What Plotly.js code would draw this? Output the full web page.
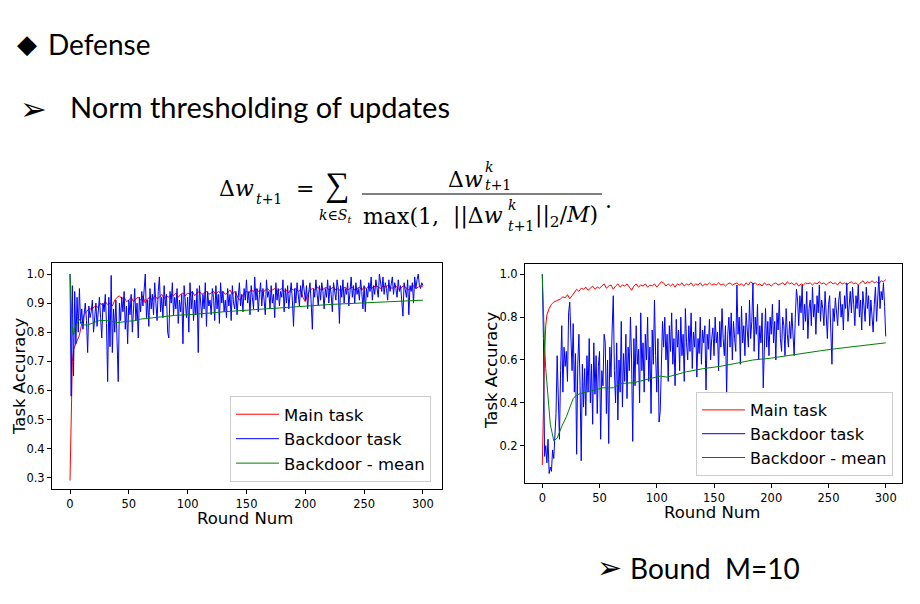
<!DOCTYPE html>
<html><head><meta charset="utf-8">
<script src="https://cdn.plot.ly/plotly-3.0.1.min.js"></script>
<style>html,body{margin:0;padding:0;background:#fff;}#chart{width:920px;height:604px;}</style>
</head><body><div id="chart"></div>
<script>
// ---------- data ----------
const seriesNames = ['Main task', 'Backdoor task', 'Backdoor - mean'];
const xTicks = [0, 50, 100, 150, 200, 250, 300];
const leftYTicks = [0.3, 0.4, 0.5, 0.6, 0.7, 0.8, 0.9, 1.0];
const rightYTicks = [0.2, 0.4, 0.6, 0.8, 1.0];

// Left chart (no bound): main task, rounds 0,1,2,3 then every 2 rounds from 4
const leftMain = [0.29,0.57,0.70,0.74,
 0.75,0.77,0.79,0.83,0.86,0.87,0.88,0.88,0.885,0.89,0.885,0.90,0.89,0.905,0.895,0.90,0.89,0.91,0.92,0.925,0.915,0.92,0.905,
 0.91,0.92,0.905,0.915,0.92,0.91,0.925,0.90,0.915,0.92,0.91,0.925,0.915,0.92,0.93,0.915,0.925,0.92,0.93,0.925,0.935,0.92,0.93,0.935,0.925,
 0.935,0.93,0.94,0.925,0.935,0.94,0.93,0.935,0.94,0.93,0.935,0.94,0.93,0.94,0.935,0.94,0.93,0.935,0.945,0.93,0.94,0.925,0.91,0.92,0.935,
 0.94,0.935,0.945,0.94,0.95,0.94,0.945,0.935,0.945,0.95,0.94,0.945,0.95,0.94,0.945,0.95,0.94,0.945,0.935,0.95,0.945,0.95,0.94,0.945,0.92,
 0.905,0.93,0.945,0.95,0.945,0.955,0.95,0.945,0.95,0.955,0.945,0.95,0.955,0.945,0.95,0.94,0.95,0.955,0.945,0.95,0.955,0.945,0.95,0.955,0.945,
 0.955,0.95,0.96,0.95,0.955,0.96,0.955,0.95,0.96,0.955,0.96,0.955,0.95,0.96,0.955,0.945,0.955,0.96,0.95,0.945,0.955,0.96,0.95,0.955,0.96,0.955];
// Left chart backdoor task, every round 0..300
const leftBackdoor = [
 1.00,0.58,0.96,0.65,0.94,0.76,0.92,0.80,0.95,0.83,
 0.88,0.81,0.86,0.90,0.84,0.73,0.89,0.85,0.87,0.91,
 0.80,0.86,0.90,0.82,0.88,0.92,0.85,0.78,0.90,0.87,
 0.93,0.83,0.63,0.92,0.75,0.995,0.73,0.88,0.80,0.91,
 0.77,0.63,0.90,0.84,0.92,0.87,0.94,0.81,0.89,0.76,
 0.91,0.86,0.93,0.80,0.88,0.95,0.84,0.90,0.78,0.92,
 0.87,0.94,0.89,0.96,1.00,0.85,0.91,0.82,0.95,0.88,
 0.93,0.86,0.97,0.90,0.84,0.94,0.99,0.87,0.92,0.85,
 0.96,0.89,0.93,0.80,0.78,0.94,0.90,0.97,0.86,0.92,
 0.88,0.95,0.83,0.91,0.87,0.93,0.76,0.96,0.89,0.85,
 0.92,0.80,0.97,0.88,0.94,0.84,0.91,0.86,0.95,0.73,
 0.96,0.90,0.85,0.93,0.88,0.97,0.82,0.94,0.89,0.91,
 0.86,0.95,0.92,0.84,0.96,0.88,0.93,0.83,0.97,0.90,
 0.94,0.87,0.91,0.85,0.95,0.89,0.93,0.84,0.96,0.90,
 0.88,0.94,0.86,0.92,0.97,0.89,0.93,0.87,0.95,0.91,
 0.98,0.90,0.94,0.86,0.96,0.92,0.88,0.99,0.91,0.95,
 0.87,0.93,0.97,0.89,0.95,0.91,0.86,0.98,0.92,0.94,
 0.88,0.96,0.90,0.93,0.85,0.97,0.91,0.95,0.89,0.94,
 0.92,0.98,0.87,0.95,0.90,0.96,0.88,0.93,0.97,0.91,
 0.82,0.95,0.90,0.97,0.93,0.89,0.96,0.92,0.98,0.94,
 0.91,0.96,0.88,0.94,0.97,0.90,0.81,0.95,0.92,0.98,
 0.93,0.89,0.96,0.91,0.97,0.94,0.88,0.95,0.92,0.98,
 0.90,0.96,0.93,0.87,0.97,0.94,0.91,0.98,0.95,0.83,
 0.96,0.92,0.98,0.90,0.95,0.93,0.97,0.89,0.94,0.99,
 0.92,0.96,0.90,0.97,0.93,0.95,0.91,0.98,0.94,0.88,
 0.96,0.87,0.95,0.92,0.97,0.94,0.99,0.91,0.96,0.93,
 0.98,0.95,0.92,1.00,0.96,0.94,0.99,0.93,0.97,0.95,
 0.91,0.98,0.94,0.96,0.99,0.93,0.97,0.95,0.92,0.98,
 0.94,0.96,0.90,0.855,0.97,0.95,0.92,0.98,0.86,0.96,
 0.94,0.97,0.90,0.99,0.95,0.98,1.00,0.96,0.95,0.97,
 0.96];
const leftMeanRounds = [0,1,2,3,4,6,8,10,12,15,18,22,25,30,35,40,45,50,55,60,70,80,90,100,110,120,130,140,150,160,170,180,190,200,210,220,230,240,250,260,270,280,290,300];
const leftMean = [1.0,0.88,0.80,0.79,0.815,0.83,0.845,0.83,0.825,0.825,0.83,0.835,0.84,0.84,0.838,0.833,0.835,0.837,0.84,0.845,0.85,0.855,0.858,0.86,0.862,0.866,0.87,0.873,0.876,0.879,0.882,0.885,0.888,0.89,0.893,0.895,0.897,0.899,0.901,0.903,0.905,0.907,0.908,0.91];

// Right chart (bound M=10): main task, rounds 0..4 then every 2 rounds from 6
const rightMain = [0.11,0.40,0.62,0.76,0.81,
 0.84,0.86,0.87,0.875,0.88,0.885,0.895,0.89,0.905,0.885,0.90,0.915,0.93,0.92,0.935,0.93,0.94,0.925,0.935,0.945,0.93,0.94,0.935,0.945,0.955,
 0.935,0.945,0.95,0.93,0.945,0.955,0.94,0.95,0.945,0.955,0.94,0.925,0.945,0.955,0.94,0.95,0.945,0.955,0.94,0.95,0.945,0.955,0.94,0.955,0.965,
 0.96,0.945,0.955,0.945,0.955,0.94,0.955,0.95,0.96,0.945,0.955,0.95,0.96,0.945,0.955,0.95,0.96,0.945,0.955,0.95,0.96,0.95,0.955,0.95,0.96,
 0.95,0.955,0.945,0.955,0.96,0.95,0.955,0.96,0.95,0.955,0.945,0.96,0.95,0.965,0.955,0.96,0.95,0.955,0.945,0.96,0.95,0.955,0.945,0.955,0.96,
 0.95,0.955,0.96,0.95,0.965,0.955,0.96,0.95,0.96,0.945,0.955,0.95,0.96,0.955,0.96,0.95,0.96,0.955,0.965,0.955,0.96,0.95,0.96,0.965,0.955,
 0.96,0.95,0.965,0.955,0.96,0.95,0.96,0.965,0.955,0.96,0.95,0.96,0.97,0.955,0.965,0.96,0.97,0.96,0.965,0.955,0.97,0.965,0.975];
const rightBackdoor = [
 1.00,0.70,0.15,0.20,0.12,0.23,0.07,0.10,0.08,0.18,
 0.14,0.25,0.35,0.62,0.40,0.23,0.55,0.76,0.45,0.66,
 0.57,0.64,0.50,0.82,0.87,0.70,0.55,0.77,0.45,0.63,
 0.16,0.58,0.72,0.48,0.13,0.58,0.38,0.56,0.34,0.62,
 0.45,0.70,0.40,0.58,0.30,0.68,0.44,0.62,0.35,0.57,
 0.64,0.23,0.55,0.48,0.72,0.68,0.35,0.60,0.21,0.66,
 0.52,0.74,0.90,0.55,0.40,0.68,0.32,0.60,0.45,0.78,
 0.38,0.63,0.50,0.72,0.42,0.66,0.55,0.80,0.60,0.22,
 0.70,0.48,0.76,0.58,0.65,0.40,0.82,0.55,0.68,0.45,
 0.72,0.60,0.80,0.50,0.66,0.35,0.74,0.58,0.88,0.62,
 0.45,0.70,0.31,0.36,0.55,0.78,0.66,0.80,0.60,0.72,
 0.50,0.76,0.64,0.82,0.58,0.70,0.48,0.79,0.66,0.74,
 0.55,0.80,0.62,0.72,0.50,0.84,0.68,0.60,0.76,0.64,
 0.82,0.56,0.73,0.66,0.78,0.52,0.70,0.63,0.80,0.58,
 0.74,0.68,0.76,0.46,0.72,0.65,0.79,0.60,0.70,0.75,
 0.62,0.80,0.68,0.73,0.55,0.78,0.66,0.84,0.70,0.62,
 0.76,0.44,0.72,0.80,0.66,0.82,0.60,0.78,0.70,0.64,
 0.95,0.72,0.80,0.58,0.85,0.68,0.76,0.62,0.82,0.74,
 0.66,0.88,0.70,0.78,0.96,0.64,0.80,0.72,0.86,0.60,
 0.76,0.68,0.82,0.47,0.74,0.84,0.66,0.78,0.62,0.80,
 0.72,0.86,0.68,0.78,0.60,0.82,0.74,0.88,0.70,0.64,
 0.80,0.76,0.62,0.84,0.72,0.66,0.78,0.70,0.82,0.74,
 0.62,0.80,0.93,0.88,0.76,0.90,0.82,0.95,0.74,0.86,
 0.78,0.92,0.70,0.84,0.88,0.76,0.94,0.80,0.86,0.72,
 0.90,0.82,0.95,0.78,0.88,0.84,0.76,0.92,0.80,0.70,
 0.86,0.90,0.74,0.58,0.84,0.78,0.89,0.82,0.76,0.88,
 0.92,0.80,0.86,0.74,0.90,0.84,0.96,0.78,0.88,0.92,
 0.82,0.94,0.86,0.76,0.90,0.84,0.95,0.80,0.88,0.74,
 0.92,0.86,0.78,0.94,0.84,0.90,0.76,0.88,0.82,0.73,
 0.86,0.94,0.78,0.90,0.99,0.84,0.92,0.88,0.96,0.85,
 0.71];
const rightMeanRounds = [0,1,2,3,4,5,7,10,13,17,21,27,30,36,45,53,62,68,80,94,103,109,126,141,155,170,184,199,213,228,243,257,272,286,300];
const rightMean = [1.0,0.80,0.66,0.56,0.49,0.42,0.30,0.223,0.235,0.29,0.335,0.42,0.437,0.447,0.46,0.47,0.47,0.49,0.494,0.515,0.525,0.52,0.545,0.56,0.57,0.585,0.60,0.608,0.62,0.63,0.643,0.653,0.662,0.672,0.68];

// ---------- helpers ----------
const W = 920, H = 604;
function roundsWithEarly(len, early, start, step) {
  const r = [];
  for (let i = 0; i < len; i++) r.push(i < early ? i : start + (i - early) * step);
  return r;
}
function everyRound(len) { return Array.from({length: len}, (_, i) => i); }
function px(x) { return x / W; }
function py(y) { return 1 - y / H; }
const SLIDE_FONT = 'Lato, "Open Sans", sans-serif';
const MATH_FONT = '"DejaVu Serif", "Liberation Serif", serif';
const PLOT_FONT = '"DejaVu Sans", sans-serif';
function ann(text, x, y, size, family, xanchor, extra) {
  return Object.assign({xref: 'paper', yref: 'paper', x: px(x), y: py(y), text: text, showarrow: false,
    xanchor: xanchor || 'left', yanchor: 'middle', borderpad: 0, font: {family: family, size: size, color: '#000'}}, extra || {});
}

const colors = ['#ff0000', '#0000ff', '#008000'];
const traces = [
  {x: roundsWithEarly(leftMain.length, 4, 4, 2), y: leftMain, name: seriesNames[0], xaxis: 'x', yaxis: 'y', legend: 'legend'},
  {x: everyRound(leftBackdoor.length), y: leftBackdoor, name: seriesNames[1], xaxis: 'x', yaxis: 'y', legend: 'legend'},
  {x: leftMeanRounds, y: leftMean, name: seriesNames[2], xaxis: 'x', yaxis: 'y', legend: 'legend'},
  {x: roundsWithEarly(rightMain.length, 5, 6, 2), y: rightMain, name: seriesNames[0], xaxis: 'x2', yaxis: 'y2', legend: 'legend2'},
  {x: everyRound(rightBackdoor.length), y: rightBackdoor, name: seriesNames[1], xaxis: 'x2', yaxis: 'y2', legend: 'legend2'},
  {x: rightMeanRounds, y: rightMean, name: seriesNames[2], xaxis: 'x2', yaxis: 'y2', legend: 'legend2'}
].map((t, i) => Object.assign(t, {type: 'scatter', mode: 'lines', line: {color: colors[i % 3], width: 1}, hoverinfo: 'skip'}));

const tickFont = {family: PLOT_FONT, size: 11.5, color: '#000'};
function xAxis(domain, range, anchor) {
  return {domain: domain, range: range, tickvals: xTicks, ticks: 'outside', ticklen: 4, tickcolor: '#000',
    showline: true, mirror: true, linecolor: '#000', linewidth: 1, showgrid: false, zeroline: false,
    tickfont: tickFont, anchor: anchor};
}
function yAxis(domain, range, ticks, anchor) {
  return {domain: domain, range: range, tickvals: ticks, tickformat: '.1f', ticks: 'outside', ticklen: 4, tickcolor: '#000',
    showline: true, mirror: true, linecolor: '#000', linewidth: 1, showgrid: false, zeroline: false,
    tickfont: tickFont, anchor: anchor};
}
const legendStyle = (x, y, size) => ({x: x, xanchor: 'right', y: y, yanchor: 'bottom', bgcolor: 'rgba(255,255,255,0.85)',
  bordercolor: '#cccccc', borderwidth: 1, font: {family: PLOT_FONT, size: size, color: '#000'},
  tracegroupgap: 0, itemwidth: 43});

const layout = {
  width: W, height: H, margin: {l: 0, r: 0, t: 0, b: 0}, paper_bgcolor: '#fff', plot_bgcolor: '#fff',
  showlegend: true,
  xaxis: xAxis([px(52), px(442)], [-15.3, 316.2], 'y'),
  yaxis: yAxis([py(489), py(263)], [0.261, 1.0378], leftYTicks, 'x'),
  xaxis2: xAxis([px(525), px(902)], [-15.1, 314.2], 'y2'),
  yaxis2: yAxis([py(483), py(264)], [0.0258, 1.048], rightYTicks, 'x2'),
  legend: legendStyle(px(431), py(482), 16.5),
  legend2: legendStyle(px(893), py(476), 16),
  shapes: [
    {type: 'line', xref: 'paper', yref: 'paper', x0: px(362), x1: px(602), y0: py(194), y1: py(194), line: {color: '#000', width: 1}}
  ],
  annotations: [
    // axis titles
    ann('Task Accuracy', 19, 377, 16.5, PLOT_FONT, 'center', {textangle: -90}),
    ann('Round Num', 245, 518, 16.5, PLOT_FONT, 'center'),
    ann('Task Accuracy', 491, 371, 16.5, PLOT_FONT, 'center', {textangle: -90}),
    ann('Round Num', 712, 512, 16.5, PLOT_FONT, 'center'),
    // slide text
    ann('\u25C6', 16, 44, 26, PLOT_FONT),
    ann('Defense', 47, 44, 28, SLIDE_FONT),
    ann('\u27A2', 19, 109, 32, PLOT_FONT),
    ann('Norm thresholding of updates', 69, 107, 29, SLIDE_FONT),
    ann('\u27A2', 596, 567, 30, PLOT_FONT),
    ann('Bound\u00A0\u00A0M=10', 629, 568, 28, SLIDE_FONT),
    // formula
    ann('\u0394<i>w</i>', 218, 188, 22, MATH_FONT),
    ann('<i>t</i>+1', 255, 199, 14, MATH_FONT),
    ann('=', 295, 188, 22, MATH_FONT),
    ann('\u2211', 337, 185, 34, '"Liberation Serif", serif', 'center'),
    ann('<i>k</i>\u2208<i>S</i><sub><i>t</i></sub>', 335, 216, 14, MATH_FONT, 'center'),
    ann('\u0394<i>w</i>', 447, 180, 22, MATH_FONT),
    ann('<i>k</i>', 484, 167, 14, MATH_FONT),
    ann('<i>t</i>+1', 484, 185, 14, MATH_FONT),
    ann('max(1,', 362, 216, 22, MATH_FONT),
    ann('||\u0394<i>w</i>', 452, 216, 22, MATH_FONT),
    ann('<i>k</i>', 507, 205, 14, MATH_FONT),
    ann('<i>t</i>+1', 507, 226, 14, MATH_FONT),
    ann('||<sub>2</sub>/<i>M</i>)', 534, 216, 22, MATH_FONT),
    ann('.', 604, 200, 22, MATH_FONT)
  ]
};
Plotly.newPlot('chart', traces, layout, {staticPlot: true, displayModeBar: false});
</script>
</body></html>
